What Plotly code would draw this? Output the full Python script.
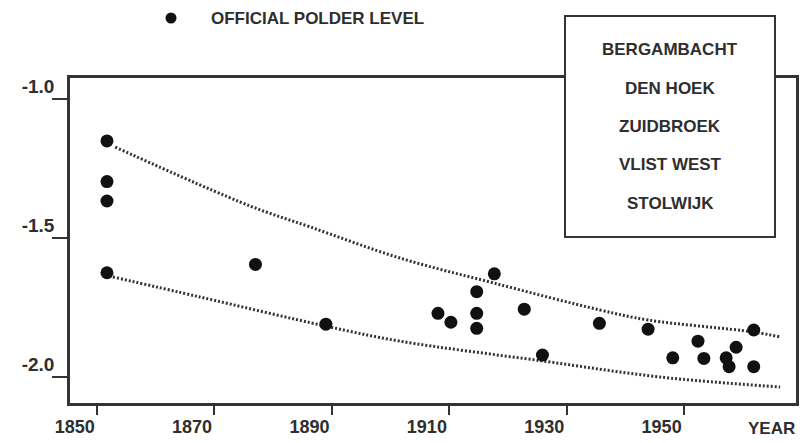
import plotly.graph_objects as go

# ---- data ----
years = [1851.7, 1851.7, 1851.7, 1851.7, 1877.0, 1889.0, 1908.1, 1910.3,
         1914.7, 1914.7, 1914.7, 1917.7, 1922.8, 1925.9, 1935.6, 1943.9,
         1948.1, 1952.4, 1953.4, 1957.2, 1957.7, 1958.9, 1961.9, 1961.9]
levels = [-1.151, -1.297, -1.367, -1.625, -1.595, -1.810, -1.771, -1.803,
          -1.693, -1.771, -1.825, -1.629, -1.756, -1.921, -1.807, -1.828,
          -1.931, -1.871, -1.933, -1.931, -1.963, -1.893, -1.831, -1.963]

upper_years = [1853.1, 1876.1, 1886.3, 1901.6, 1917.6, 1935.7, 1943.9, 1961.8, 1966.4]
upper_vals = [-1.173, -1.385, -1.460, -1.572, -1.662, -1.759, -1.795, -1.838, -1.856]
lower_years = [1852.7, 1867.5, 1889.0, 1901.6, 1925.8, 1945.9, 1966.4]
lower_vals = [-1.640, -1.712, -1.817, -1.871, -1.942, -2.000, -2.036]

x_ticks = [1850, 1870, 1890, 1910, 1930, 1950]
x_tick_labels = ["1850", "1870", "1890", "1910", "1930", "1950"]
y_ticks = [-1.0, -1.5, -2.0]
y_tick_labels = ["-1.0", "-1.5", "-2.0"]
polders = ["BERGAMBACHT", "DEN HOEK", "ZUIDBROEK", "VLIST WEST", "STOLWIJK"]
legend_label = "OFFICIAL POLDER LEVEL"
x_title = "YEAR"

# ---- layout geometry (pixels) ----
W, H = 802, 443
L, R, T, B = 70, 796, 78, 403
def px(xp):
    return (xp - L) / (R - L)
def py(yp):
    return (B - yp) / (B - T)

FONT = "Liberation Sans, Arial, sans-serif"
INK = "#2e2e2e"
LINE = "#333"

fig = go.Figure()
for xs, ys in ((upper_years, upper_vals), (lower_years, lower_vals)):
    fig.add_trace(go.Scatter(x=xs, y=ys, mode="lines", line_shape="spline",
                             line=dict(color="#333", width=3, dash="2px,2px"),
                             hoverinfo="skip"))
fig.add_trace(go.Scatter(x=years, y=levels, mode="markers",
                         marker=dict(color="#111", size=13)))

fig.update_layout(
    width=W, height=H, margin=dict(l=L, r=W - R, t=T, b=H - B, autoexpand=False),
    paper_bgcolor="white", plot_bgcolor="white", showlegend=False,
    font=dict(family=FONT, color=INK, weight="bold"),
    xaxis=dict(range=[1845.4, 1969.1], tickvals=x_ticks, ticktext=x_tick_labels,
               ticks="outside", ticklen=9, tickwidth=2, tickcolor=LINE,
               ticklabelposition="outside left", ticklabelstandoff=6,
               showline=True, linewidth=2.5, linecolor=LINE, mirror=True,
               showgrid=False, zeroline=False, automargin=False,
               tickfont=dict(size=18, color=INK, weight="bold")),
    yaxis=dict(range=[-2.0935, -0.9245], tickvals=y_ticks, ticktext=y_tick_labels,
               ticks="outside", ticklen=15, tickwidth=2, tickcolor=LINE,
               ticklabelposition="outside top", ticklabelstandoff=9,
               ticklabelshift=2,
               showline=True, linewidth=2.5, linecolor=LINE, mirror=True,
               showgrid=False, zeroline=False, automargin=False,
               tickfont=dict(size=19, color=INK, weight="bold")),
)

# legend box with polder names
fig.add_shape(type="rect", xref="paper", yref="paper",
              x0=px(565), x1=px(775), y0=py(237), y1=py(16),
              line=dict(color=LINE, width=2), fillcolor="white", layer="above")
for i, name in enumerate(polders):
    fig.add_annotation(xref="paper", yref="paper", x=px(670), y=py(50 + i * 38.3),
                       text=name, showarrow=False,
                       font=dict(size=17, color=INK, weight="bold"),
                       xanchor="center", yanchor="middle")

# series key at top
fig.add_shape(type="circle", xref="paper", yref="paper",
              x0=px(165.5), x1=px(176.5), y0=py(23.5), y1=py(12.5),
              line=dict(color="#111", width=0), fillcolor="#111", layer="above")
fig.add_annotation(xref="paper", yref="paper", x=px(209), y=py(19), text=legend_label,
                   showarrow=False, font=dict(size=17, color=INK, weight="bold"),
                   xanchor="left", yanchor="middle")

fig.add_annotation(xref="paper", yref="paper", x=px(771), y=py(428), text=x_title,
                   showarrow=False, font=dict(size=17, color=INK, weight="bold"),
                   xanchor="center", yanchor="middle")

fig.write_html("out.html")
